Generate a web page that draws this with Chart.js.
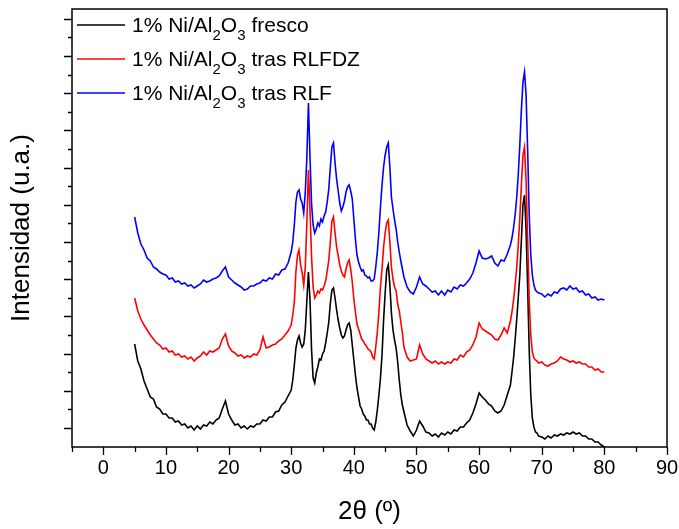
<!DOCTYPE html>
<html>
<head>
<meta charset="utf-8">
<script src="https://cdn.jsdelivr.net/npm/chart.js@4.4.1/dist/chart.umd.min.js"></script>
<style>
  html, body { margin: 0; padding: 0; background: #fff; }
  #wrap { position: relative; width: 679px; height: 529px; }
</style>
</head>
<body>
<div id="wrap"><canvas id="xrd" width="679" height="529"></canvas></div>
<script>
// 2θ positions (degrees)
const twoTheta = [
  5,5.5,6,6.5,7,7.5,8,8.5,9,9.5,10,10.5,11,11.5,12,12.5,13,13.5,14,14.5,15,15.5,16,16.5,17,17.5,18,18.5,19,19.5,20,20.5,21,21.5,22,22.5,23,23.5,24,24.5,25,25.5,26,26.5,27,27.5,28,28.5,29,29.5,30,
  30.25,30.5,30.75,31,31.25,31.5,31.75,32,32.25,32.5,32.75,33,33.25,33.5,33.75,34,34.25,34.5,34.75,35,35.25,35.5,35.75,36,36.25,36.5,36.75,37,37.25,37.5,37.75,38,38.25,38.5,38.75,39,39.25,39.5,39.75,40,40.25,40.5,40.75,41,41.25,41.5,41.75,42,42.25,42.5,42.75,43,43.25,43.5,43.75,44,44.25,44.5,44.75,45,45.25,45.5,45.75,46,46.25,46.5,46.75,47,47.25,47.5,47.75,48,
  48.5,49,49.5,50,50.5,51,51.5,52,52.5,53,53.5,54,54.5,55,55.5,56,56.5,57,57.5,58,58.5,59,59.5,60,60.5,61,61.5,62,62.5,63,63.5,64,64.5,65,
  65.25,65.5,65.75,66,66.25,66.5,66.75,67,67.25,67.5,67.75,68,68.25,68.5,68.75,69,69.25,69.5,
  70,70.5,71,71.5,72,72.5,73,73.5,74,74.5,75,75.5,76,76.5,77,77.5,78,78.5,79,79.5,80
];

// Intensities (u.a.), stacked patterns
const fresco = [
  103,86,78,66,58,50,48,40,38,33,33,29,29,25,26,22,23,19,21,17,21,18,22,21,25,23,27,29,38,46,33,27,22,23,19,21,18,21,20,23,23,27,26,30,30,35,36,42,45,51,57,
  67,82,99,107,111,104,100,103,117,147,175,147,97,69,64,74,80,88,87,93,96,104,114,125,144,157,159,149,137,127,119,112,109,111,117,122,124,117,102,87,72,59,50,41,38,33,31,27,27,23,23,19,17,25,37,52,69,92,127,154,177,182,162,134,117,107,99,85,67,52,42,35,
  22,16,11,17,26,21,15,14,11,13,10,14,12,15,13,17,16,20,20,24,27,34,43,54,50,47,43,41,36,34,36,42,52,62,
  75,89,107,127,149,172,207,242,252,217,160,97,52,29,20,15,14,11,
  10,8,11,9,12,11,13,12,14,13,15,13,14,11,11,8,8,5,5,2,0
];

const trasRLFDZ = [
  149,136,128,122,117,112,108,104,102,98,99,95,96,92,93,90,91,88,90,86,89,91,95,92,96,95,97,99,108,113,101,96,94,91,92,89,91,90,93,92,97,110,99,100,102,103,106,108,112,116,122,
  132,145,175,192,197,182,174,162,180,225,277,237,190,160,149,152,156,154,158,157,161,166,176,187,205,226,230,214,200,191,182,176,172,170,178,184,187,178,165,148,135,123,118,113,108,106,103,101,98,97,95,90,88,100,115,135,160,178,200,214,224,227,205,180,168,160,156,143,136,125,114,100,
  90,86,87,88,102,93,88,86,84,86,83,85,83,85,84,88,87,92,90,95,97,102,110,124,118,116,114,112,108,107,112,119,114,126,
  135,147,162,179,202,229,262,292,300,267,207,147,112,95,89,87,86,84,
  85,82,81,83,84,86,90,88,87,85,86,84,85,83,83,80,80,77,78,75,75
];

const trasRLF = [
  230,214,203,197,189,186,180,178,175,173,172,168,169,165,166,163,164,161,162,159,161,163,167,165,166,168,169,171,176,180,170,167,164,162,160,157,158,161,161,163,164,167,166,169,168,173,172,177,178,184,195,
  205,222,245,255,257,248,244,234,255,290,344,290,243,222,214,218,224,221,228,225,231,235,245,258,280,300,304,284,268,256,244,236,240,246,255,260,262,256,248,228,208,192,185,180,176,177,172,171,169,170,166,166,168,180,195,215,240,262,280,292,300,304,280,250,238,227,218,205,195,186,178,170,
  160,155,153,160,170,163,161,158,155,156,152,156,152,157,155,160,158,162,161,164,168,174,184,196,189,188,189,191,184,181,187,186,193,202,
  209,219,232,249,272,302,337,365,375,352,297,232,192,172,162,157,155,154,
  153,150,153,151,155,154,158,159,157,161,158,159,155,156,152,153,149,150,147,148,147
];

const seriesLabels = [
  '1% Ni/Al2O3 fresco',
  '1% Ni/Al2O3 tras RLFDZ',
  '1% Ni/Al2O3 tras RLF'
];
const seriesColors = ['#000000', '#ff0000', '#0000ff'];

const xTickValues = [0, 10, 20, 30, 40, 50, 60, 70, 80, 90];
const xMinorTicks = [-5, 5, 15, 25, 35, 45, 55, 65, 75, 85];
const yMajorTicks = [19, 56.2, 93.4, 130.6, 167.8, 205, 242.2, 279.4, 316.6, 353.8, 391, 428.2];
const yMinorTicks = [37.6, 74.8, 112, 149.2, 186.4, 223.6, 260.8, 298, 335.2, 372.4, 409.6];

const FONT = '"Liberation Sans", Arial, Helvetica, sans-serif';

function toPoints(values) {
  return twoTheta.map((t, i) => ({ x: t, y: values[i] }));
}

// Draws text where a digit following a letter is set as a subscript (chemical formulae)
function drawFormula(ctx, text, x, baseline, size) {
  const subSize = Math.round(size * 0.72);
  let cx = x;
  for (let i = 0; i < text.length; i++) {
    const ch = text[i];
    const isSub = /\d/.test(ch) && i > 0 && /[A-Za-z]/.test(text[i - 1]);
    if (isSub) {
      ctx.font = subSize + 'px ' + FONT;
      ctx.fillText(ch, cx, baseline + size * 0.36);
    } else {
      ctx.font = size + 'px ' + FONT;
      ctx.fillText(ch, cx, baseline);
    }
    cx += ctx.measureText(ch).width;
  }
}

const frameTicksLegend = {
  id: 'frameTicksLegend',
  afterDraw(chart) {
    const { ctx, chartArea: a, scales: { x, y } } = chart;
    ctx.save();
    ctx.strokeStyle = '#000';
    ctx.lineWidth = 1.5;
    ctx.strokeRect(a.left, a.top, a.right - a.left, a.bottom - a.top);

    ctx.lineWidth = 1.3;
    ctx.beginPath();
    xTickValues.forEach(v => {
      const px = Math.round(x.getPixelForValue(v)) + 0.5;
      ctx.moveTo(px, a.bottom); ctx.lineTo(px, a.bottom + 8);
    });
    xMinorTicks.forEach(v => {
      const px = Math.round(x.getPixelForValue(v)) + 0.5;
      ctx.moveTo(px, a.bottom); ctx.lineTo(px, a.bottom + 5);
    });
    yMajorTicks.forEach(v => {
      const py = Math.round(y.getPixelForValue(v)) + 0.5;
      ctx.moveTo(a.left, py); ctx.lineTo(a.left - 8, py);
    });
    yMinorTicks.forEach(v => {
      const py = Math.round(y.getPixelForValue(v)) + 0.5;
      ctx.moveTo(a.left, py); ctx.lineTo(a.left - 4, py);
    });
    ctx.stroke();

    // legend
    ctx.fillStyle = '#000';
    ctx.textBaseline = 'alphabetic';
    ctx.textAlign = 'left';
    chart.data.datasets.forEach((ds, i) => {
      const baseline = a.top + 23 + i * 34;
      ctx.strokeStyle = ds.borderColor;
      ctx.lineWidth = 1.5;
      ctx.beginPath();
      ctx.moveTo(a.left + 5, baseline - 7);
      ctx.lineTo(a.left + 53, baseline - 7);
      ctx.stroke();
      drawFormula(ctx, ds.label, a.left + 60, baseline, 21);
    });
    ctx.restore();
  }
};

new Chart(document.getElementById('xrd'), {
  type: 'line',
  data: {
    datasets: [
      { label: seriesLabels[0], data: toPoints(fresco), borderColor: seriesColors[0], order: 3 },
      { label: seriesLabels[1], data: toPoints(trasRLFDZ), borderColor: seriesColors[1], order: 2 },
      { label: seriesLabels[2], data: toPoints(trasRLF), borderColor: seriesColors[2], order: 1 }
    ]
  },
  options: {
    responsive: false,
    devicePixelRatio: 1,
    animation: false,
    parsing: false,
    elements: {
      line: { borderWidth: 1.6, tension: 0, fill: false },
      point: { radius: 0 }
    },
    layout: { padding: { top: 9, right: 12, left: 0, bottom: 0 } },
    plugins: { legend: { display: false }, tooltip: { enabled: false } },
    scales: {
      x: {
        type: 'linear',
        min: -5,
        max: 90,
        grid: { display: false, drawTicks: false },
        border: { display: false },
        afterBuildTicks: s => { s.ticks = xTickValues.map(v => ({ value: v })); },
        afterFit: s => { s.height = 82; s.paddingLeft = 0; s.paddingRight = 0; },
        ticks: { color: '#000', font: { family: FONT, size: 20 }, padding: 9, maxRotation: 0 },
        title: {
          display: true,
          text: '2θ (º)',
          color: '#000',
          font: { family: FONT, size: 26 },
          padding: { top: 0, bottom: 2 }
        }
      },
      y: {
        type: 'linear',
        min: 0,
        max: 438,
        grid: { display: false, drawTicks: false },
        border: { display: false },
        ticks: { display: false },
        afterFit: s => { s.width = 72; s.paddingTop = 0; s.paddingBottom = 0; },
        title: {
          display: true,
          text: 'Intensidad (u.a.)',
          color: '#000',
          font: { family: FONT, size: 26 },
          padding: { top: 6, bottom: 0 }
        }
      }
    }
  },
  plugins: [frameTicksLegend]
});
</script>
</body>
</html>
